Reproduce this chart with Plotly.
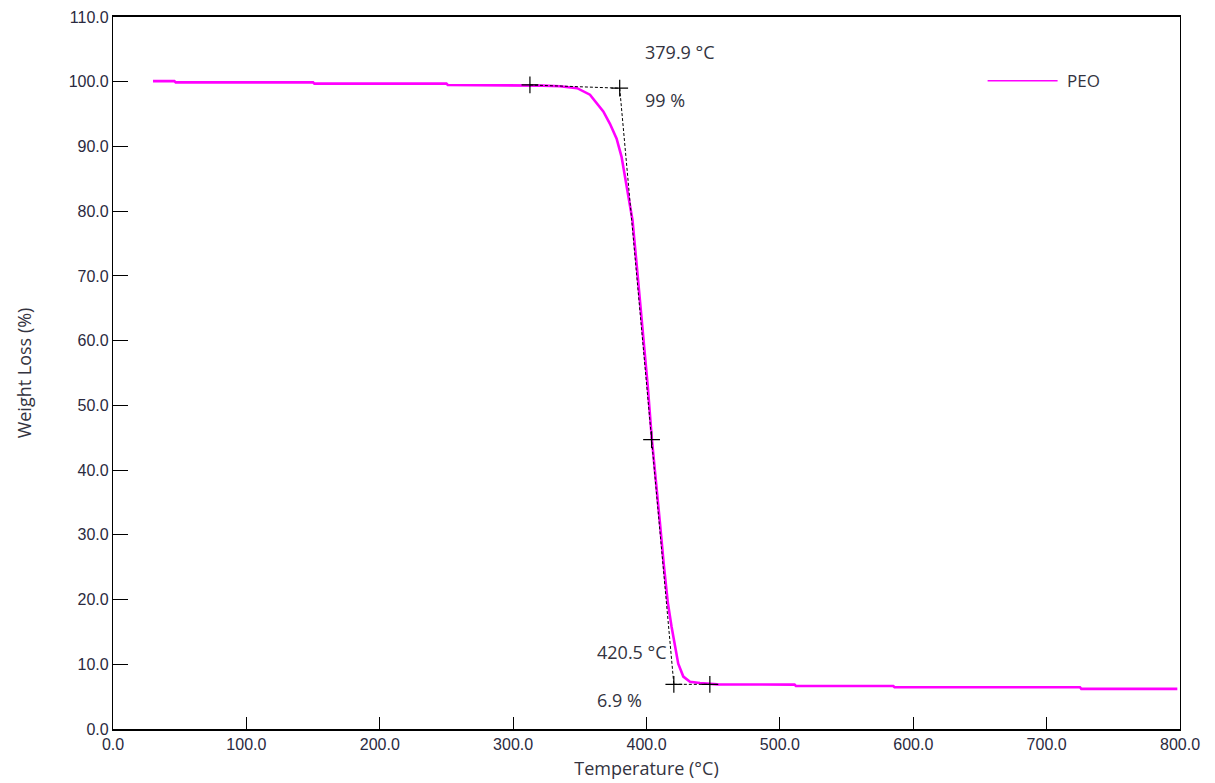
import plotly.graph_objects as go

# TGA curve of PEO (temperature in °C, weight in %)
temp = [30, 46, 47, 150, 151, 250, 251, 312, 322, 335, 348, 357.6, 367.6, 372.6,
        377.6, 381.3, 383.8, 386.3, 389.5, 392.5, 395, 398, 401, 404, 407, 410,
        413, 416, 418.8, 421.3, 423.8, 427.6, 432.6, 440, 453, 511, 512, 585,
        586, 725, 726, 798]
weight = [100.1, 100.1, 99.9, 99.9, 99.7, 99.7, 99.5, 99.5, 99.4, 99.3, 99.0, 98.0,
          95.4, 93.5, 91.2, 88.4, 85.3, 82.2, 78.6, 72.0, 66.5, 59.5, 52.8, 44.8,
          38.8, 32.0, 25.3, 19.5, 15.8, 12.7, 10.1, 8.1, 7.3, 7.1, 6.9, 6.85,
          6.65, 6.65, 6.45, 6.45, 6.2, 6.2]

# Onset / endset construction lines
onset_base_t = [312.6, 379.9]
onset_base_w = [99.5, 99.0]
tangent_t = [379.9, 420.5]
tangent_w = [99.0, 6.9]
end_base_t = [420.5, 447.5]
end_base_w = [6.9, 6.9]
cross_t = [312.6, 379.9, 403.8, 420.5, 447.5]
cross_w = [99.5, 99.0, 44.7, 6.9, 6.9]

x_ticks = [0, 100, 200, 300, 400, 500, 600, 700, 800]
y_ticks = [0, 10, 20, 30, 40, 50, 60, 70, 80, 90, 100, 110]

MAG = "#FF00FF"
TXT = "#333340"

fig = go.Figure()
fig.add_trace(go.Scatter(x=temp, y=weight, mode="lines", line=dict(color=MAG, width=2.6),
                         showlegend=False, hoverinfo="skip"))
for xs, ys in [(onset_base_t, onset_base_w), (tangent_t, tangent_w), (end_base_t, end_base_w)]:
    fig.add_trace(go.Scatter(x=xs, y=ys, mode="lines", line=dict(color="black", width=1, dash="3px,2px"),
                             showlegend=False, hoverinfo="skip"))
fig.add_trace(go.Scatter(x=cross_t, y=cross_w, mode="markers",
                         marker=dict(symbol="cross-thin", size=12, line=dict(color="black", width=1.2)),
                         showlegend=False, hoverinfo="skip"))
# legend entry
fig.add_trace(go.Scatter(x=[None], y=[None], mode="lines", name="\u00a0PEO",
                         line=dict(color=MAG, width=1.5)))

ann_font = dict(family="Open Sans", size=18, color=TXT)
for t, w, s in [(397.3, 104.6, "379.9 °C"), (397.3, 97.2, "99 %"),
                (361.3, 11.9, "420.5 °C"), (361.3, 4.5, "6.9 %")]:
    fig.add_annotation(x=t, y=w, text=s, showarrow=False, xanchor="left", yanchor="middle",
                       font=ann_font)

tick_font = dict(family="Liberation Sans", size=16, color="#2a2a40")
title_font = dict(family="Open Sans", size=18, color=TXT)
fig.update_xaxes(range=[0, 800], tickvals=x_ticks, ticktext=[f"{v:.1f}" for v in x_ticks],
                 ticks="inside", ticklen=12, tickcolor="black", tickwidth=1,
                 showline=True, linecolor="black", linewidth=1.5, mirror=True,
                 showgrid=False, zeroline=False, tickfont=tick_font, automargin=False,
                 title=dict(text="Temperature (°C)", font=title_font, standoff=10))
fig.update_yaxes(range=[0, 110], tickvals=y_ticks, ticktext=[f"{v:.1f}" for v in y_ticks],
                 ticks="inside", ticklen=15, tickcolor="black", tickwidth=1,
                 showline=True, linecolor="black", linewidth=1.2, mirror=True,
                 showgrid=False, zeroline=False, tickfont=tick_font, automargin=False,
                 title=dict(text="Weight Loss (%)", font=title_font, standoff=32))
fig.update_layout(width=1215, height=783, margin=dict(l=113, r=35, t=17, b=54),
                  plot_bgcolor="white", paper_bgcolor="white",
                  legend=dict(x=0.815, y=0.935, xanchor="left", yanchor="top", itemwidth=70,
                              font=dict(family="Open Sans", size=17, color=TXT),
                              bgcolor="rgba(0,0,0,0)"))
fig.write_html("out.html")
